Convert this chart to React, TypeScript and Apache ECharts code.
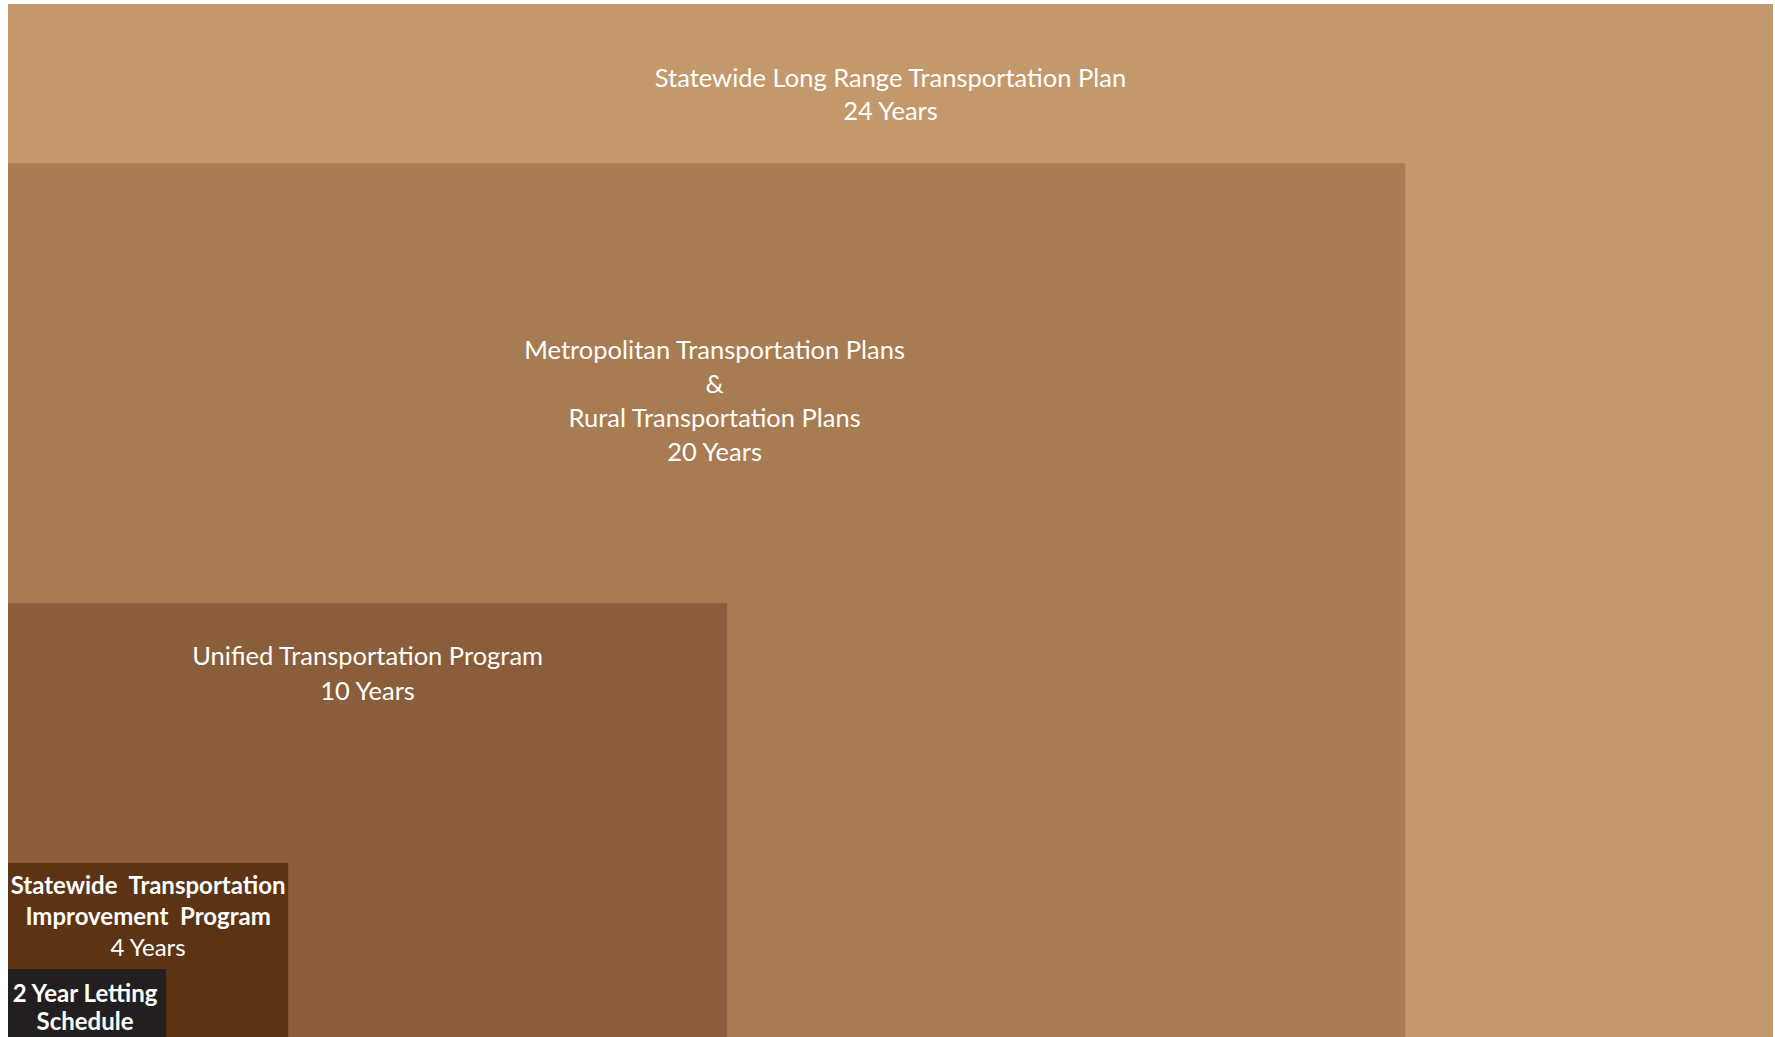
import React, { useEffect, useRef } from "react";
import * as echarts from "echarts";

// ---- data ----
const planNames = [
  "Statewide Long Range Transportation Plan",
  "Metropolitan Transportation Plans\n&\nRural Transportation Plans",
  "Unified Transportation Program",
  "Statewide  Transportation\nImprovement  Program",
  "2 Year Letting\nSchedule",
];
const yearLabels = ["24 Years", "20 Years", "10 Years", "4 Years", ""];
// extent of each nested box in chart units (x: right edge, y: top edge), measured from the bottom-left corner
const boxRight = [24, 19.0, 9.78, 3.81, 2.15];
const boxTop = [24, 20.3, 10.08, 4.04, 1.58];

// ---- styling ----
const boxColors = ["#C3996C", "#A87C52", "#8A5E3A", "#5C3414", "#231F20"];
const labelOffset = [73, 186, 52, 21, 24]; // px from box top to first line centre
const labelDx = [0, 8, 0, 0, -2];
const lineHeights = [33, 34, 35, 31, 28];
const titleFonts = [
  { family: "Lato", size: 25.5, weight: "normal" },
  { family: "Lato", size: 25.5, weight: "normal" },
  { family: "Lato", size: 25.5, weight: "normal" },
  { family: "Lato", size: 24, weight: "bold" },
  { family: "Lato", size: 24, weight: "bold" },
];
const yearFonts = [25.5, 25.5, 25.5, 24, 24];

export default function App() {
  const ref = useRef<HTMLDivElement>(null);
  useEffect(() => {
    if (!ref.current) return;
    const chart = echarts.init(ref.current, undefined, { renderer: "svg" });
    const option: any = {
      animation: false,
      grid: { left: 8, right: 2, top: 4, bottom: 0 },
      xAxis: { type: "value", min: 0, max: 24, show: false },
      yAxis: { type: "value", min: 0, max: 24, show: false },
      series: [
        {
          type: "custom",
          clip: false,
          data: planNames.map((_, i) => [boxRight[i], boxTop[i], i]),
          encode: { x: 0, y: 1 },
          renderItem: (params: any, api: any) => {
            const i = api.value(2);
            const tl = api.coord([0, api.value(1)]);
            const br = api.coord([api.value(0), 0]);
            const cx = (tl[0] + br[0]) / 2 + labelDx[i];
            const lh = lineHeights[i];
            const firstTop = tl[1] + labelOffset[i] - lh / 2;
            const nLines = planNames[i].split("\n").length;
            const tf = titleFonts[i];
            const children: any[] = [
              {
                type: "rect",
                shape: { x: tl[0], y: tl[1], width: br[0] - tl[0], height: br[1] - tl[1] },
                style: { fill: boxColors[i] },
              },
              {
                type: "text",
                style: {
                  text: planNames[i],
                  x: cx,
                  y: firstTop,
                  fill: "#ffffff",
                  align: "center",
                  verticalAlign: "top",
                  lineHeight: lh,
                  fontFamily: tf.family,
                  fontSize: tf.size,
                  fontWeight: tf.weight,
                },
              },
            ];
            if (yearLabels[i]) {
              children.push({
                type: "text",
                style: {
                  text: yearLabels[i],
                  x: cx,
                  y: firstTop + nLines * lh,
                  fill: "#ffffff",
                  align: "center",
                  verticalAlign: "top",
                  lineHeight: lh,
                  fontFamily: "Lato",
                  fontSize: yearFonts[i],
                  fontWeight: "normal",
                },
              });
            }
            return { type: "group", children };
          },
        },
      ],
    };
    chart.setOption(option);
    return () => chart.dispose();
  }, []);
  return (
    <div
      ref={ref}
      style={{ position: "fixed", left: 0, top: 0, width: "1775px", height: "1037px", background: "#ffffff" }}
    />
  );
}
